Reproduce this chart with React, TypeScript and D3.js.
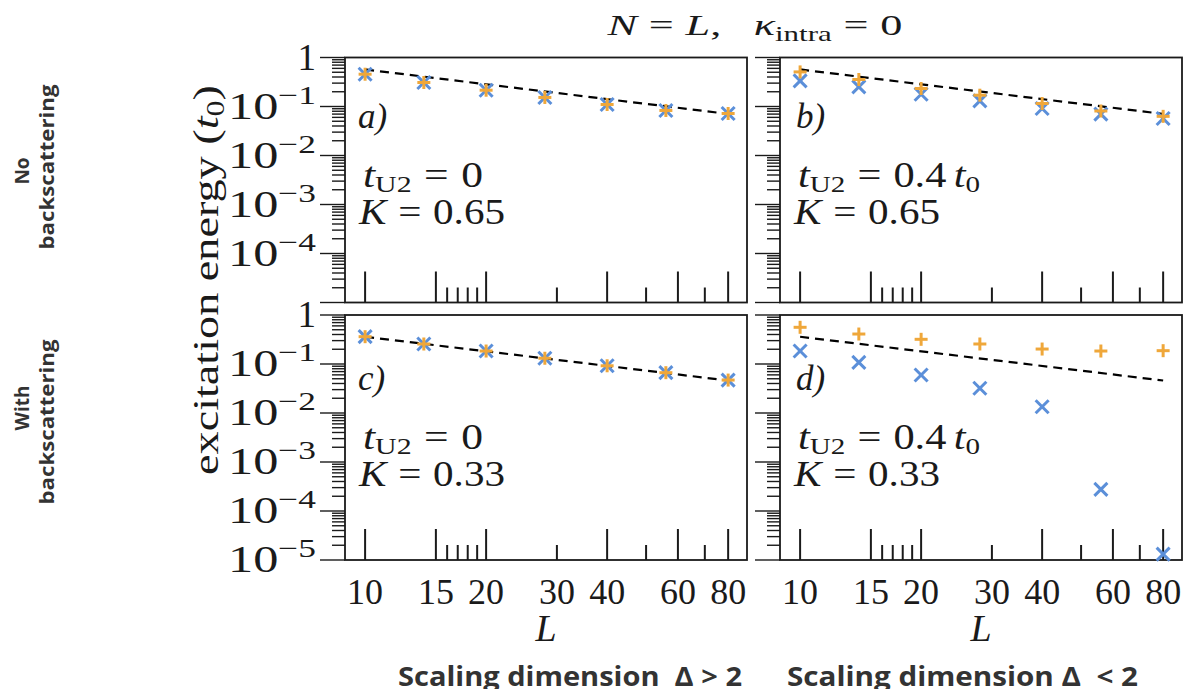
import React from 'react';
import * as d3 from 'd3';

// ---------- data ----------
const L_VALUES = [10, 14, 20, 28, 40, 56, 80];

const PANEL_A_BLUE = [0.456, 0.309, 0.215, 0.153, 0.11, 0.083, 0.072];
const PANEL_A_ORANGE = [0.456, 0.309, 0.215, 0.153, 0.11, 0.083, 0.072];
const PANEL_B_BLUE = [0.333, 0.251, 0.178, 0.13, 0.091, 0.07, 0.057];
const PANEL_B_ORANGE = [0.508, 0.356, 0.233, 0.17, 0.115, 0.081, 0.063];
const PANEL_C_BLUE = [0.361, 0.256, 0.184, 0.131, 0.092, 0.0665, 0.047];
const PANEL_C_ORANGE = [0.361, 0.256, 0.184, 0.131, 0.092, 0.0665, 0.047];
const PANEL_D_BLUE = [0.184, 0.108, 0.0597, 0.0319, 0.01345, 2.77e-4, 1.32e-5];
const PANEL_D_ORANGE = [0.561, 0.409, 0.319, 0.256, 0.202, 0.184, 0.187];

const FIT_L = [10, 80];
const FIT_UPPER = [0.57, 0.0705];
const FIT_LOWER = [0.36, 0.046];

const X_TICKS_MAJOR = [10, 15, 20, 40, 60, 80];
const X_TICKS_MINOR = [16, 17, 18, 19, 30, 50, 70];
const X_TICK_LABELS = [10, 15, 20, 30, 40, 60, 80];
const Y_DECADES = [0, -1, -2, -3, -4, -5];
const Y_MINOR_SUBS = [2, 3, 4, 5, 6, 7, 8, 9];

const PANEL_LABELS = ['a)', 'b)', 'c)', 'd)'];
const T_U2_VALUES = ['0', '0.4', '0', '0.4'];
const K_VALUES = ['0.65', '0.65', '0.33', '0.33'];

// ---------- layout / style ----------
const W = 1185;
const H = 689;
const COLS = [345, 780];
const ROWS = [57.5, 315];
const PW = 402;
const PH = 245;
const BLUE = '#5b8fd9';
const ORANGE = '#efa73a';
const INK = '#1a1a1a';
const SERIF = '"Liberation Serif", "Times New Roman", serif';
const SANS = '"Open Sans", "Noto Sans", sans-serif';

const xScale = d3.scaleLog().domain([Math.pow(10, 0.95), Math.pow(10, 1.95)]).range([0, PW]);
const yScale = d3.scaleLog().domain([1e-5, 1]).range([PH, 0]);

const yMinor: number[] = [];
for (let d = -5; d < 0; d++) for (const m of Y_MINOR_SUBS) yMinor.push(m * Math.pow(10, d));

const panels = [
  { col: 0, row: 0, blue: PANEL_A_BLUE, orange: PANEL_A_ORANGE, fit: FIT_UPPER },
  { col: 1, row: 0, blue: PANEL_B_BLUE, orange: PANEL_B_ORANGE, fit: FIT_UPPER },
  { col: 0, row: 1, blue: PANEL_C_BLUE, orange: PANEL_C_ORANGE, fit: FIT_LOWER },
  { col: 1, row: 1, blue: PANEL_D_BLUE, orange: PANEL_D_ORANGE, fit: FIT_LOWER },
];

const fitLine = d3
  .line<number>()
  .x((_, i) => xScale(FIT_L[i]))
  .y((v) => yScale(v));

function Cross({ cx, cy }: { cx: number; cy: number }) {
  const s = 6.5;
  return (
    <g stroke={BLUE} strokeWidth={3}>
      <line x1={cx - s} y1={cy - s} x2={cx + s} y2={cy + s} />
      <line x1={cx - s} y1={cy + s} x2={cx + s} y2={cy - s} />
    </g>
  );
}

function Plus({ cx, cy }: { cx: number; cy: number }) {
  const s = 6.5;
  return (
    <g stroke={ORANGE} strokeWidth={3}>
      <line x1={cx - s} y1={cy} x2={cx + s} y2={cy} />
      <line x1={cx} y1={cy - s} x2={cx} y2={cy + s} />
    </g>
  );
}

function Panel({ idx }: { idx: number }) {
  const p = panels[idx];
  const x0 = COLS[p.col];
  const y0 = ROWS[p.row];
  const off = p.row === 1 ? 5 : 0;
  const showYLabels = p.col === 0;
  const showXLabels = p.row === 1;
  const yLabelDecades = p.row === 0 ? Y_DECADES.slice(0, 5) : Y_DECADES;
  const is04 = T_U2_VALUES[idx] === '0.4';
  return (
    <g transform={`translate(${x0},${y0})`}>
      {/* y ticks (outside left) */}
      <g stroke={INK} strokeWidth={1.4}>
        {Y_DECADES.map((d) => (
          <line key={'M' + d} x1={-25} x2={0} y1={yScale(Math.pow(10, d))} y2={yScale(Math.pow(10, d))} />
        ))}
        {yMinor.map((v, i) => (
          <line key={'m' + i} x1={-13} x2={0} y1={yScale(v)} y2={yScale(v)} />
        ))}
      </g>
      {/* x ticks (inside bottom) */}
      <g stroke={INK} strokeWidth={2}>
        {X_TICKS_MAJOR.map((v) => (
          <line key={'xM' + v} x1={xScale(v)} x2={xScale(v)} y1={PH} y2={PH - 31} />
        ))}
        {X_TICKS_MINOR.map((v) => (
          <line key={'xm' + v} x1={xScale(v)} x2={xScale(v)} y1={PH} y2={PH - 15} />
        ))}
      </g>
      {/* frame */}
      <rect x={0} y={0} width={PW} height={PH} fill="none" stroke={INK} strokeWidth={1.8} />
      {/* fit */}
      <path d={fitLine(p.fit) || ''} fill="none" stroke="#000" strokeWidth={2.2} strokeDasharray="9,6" />
      {/* markers */}
      {p.blue.map((v, i) => (
        <Cross key={'b' + i} cx={xScale(L_VALUES[i])} cy={yScale(v)} />
      ))}
      {p.orange.map((v, i) => (
        <Plus key={'o' + i} cx={xScale(L_VALUES[i])} cy={yScale(v)} />
      ))}
      {/* annotations */}
      <text x={p.col === 0 ? 13 : 16} y={70 + off} fontFamily={SERIF} fontSize={35} fontStyle="italic" fill={INK}>
        {PANEL_LABELS[idx]}
      </text>
      <text
        x={18}
        y={129 + off}
        fontFamily={SERIF}
        fontSize={35}
        fill={INK}
        textLength={is04 ? 182 : 120}
        lengthAdjust="spacingAndGlyphs"
      >
        <tspan fontStyle="italic">t</tspan>
        <tspan fontSize={24} dy={5}>U2</tspan>
        <tspan dy={-5} dx={10}>=</tspan>
        <tspan dx={10}>{T_U2_VALUES[idx]}</tspan>
        {is04 && (
          <>
            <tspan dx={6} fontStyle="italic">t</tspan>
            <tspan fontSize={24} dy={5}>0</tspan>
          </>
        )}
      </text>
      <text x={14} y={166 + off} fontFamily={SERIF} fontSize={35} fill={INK} textLength={146} lengthAdjust="spacingAndGlyphs">
        <tspan fontStyle="italic">K</tspan>
        <tspan dx={10}>=</tspan>
        <tspan dx={10}>{K_VALUES[idx]}</tspan>
      </text>
      {/* y tick labels */}
      {showYLabels &&
        yLabelDecades.map((d) =>
          d === 0 ? (
            <text key={'yl' + d} x={-29} y={yScale(1) + 12} textAnchor="end" fontFamily={SERIF} fontSize={37} fill={INK}>
              1
            </text>
          ) : (
            <text
              key={'yl' + d}
              x={-29}
              y={yScale(Math.pow(10, d)) + 12}
              textAnchor="end"
              fontFamily={SERIF}
              fontSize={37}
              fill={INK}
              textLength={88}
              lengthAdjust="spacingAndGlyphs"
            >
              10
              <tspan fontSize={26} dy={-15}>
                {'\u2212' + -d}
              </tspan>
            </text>
          )
        )}
      {/* x tick labels */}
      {showXLabels &&
        X_TICK_LABELS.map((v) => (
          <text key={'xl' + v} x={xScale(v)} y={PH + 44} textAnchor="middle" fontFamily={SERIF} fontSize={36} fill={INK}>
            {v}
          </text>
        ))}
      {showXLabels && (
        <text x={PW / 2} y={PH + 81} textAnchor="middle" fontFamily={SERIF} fontSize={38} fontStyle="italic" fill={INK}>
          L
        </text>
      )}
    </g>
  );
}

export default function App() {
  return (
    <svg
      width={W}
      height={H}
      viewBox={`0 0 ${W} ${H}`}
      style={{ position: 'absolute', left: 0, top: 0, background: '#fff', display: 'block' }}
    >
      <rect x={0} y={0} width={W} height={H} fill="#fff" />
      {/* title */}
      <text x={755} y={35} textAnchor="middle" fontFamily={SERIF} fontSize={30} fill={INK} textLength={295} lengthAdjust="spacingAndGlyphs">
        <tspan fontStyle="italic">N</tspan>
        <tspan dx={8}>=</tspan>
        <tspan dx={8} fontStyle="italic">L</tspan>
        <tspan>,</tspan>
        <tspan dx={22} fontStyle="italic">κ</tspan>
        <tspan fontSize={21} dy={6}>intra</tspan>
        <tspan dy={-6} dx={8}>=</tspan>
        <tspan dx={8}>0</tspan>
      </text>
      {/* y axis title */}
      <text
        transform="translate(218,280) rotate(-90)"
        textAnchor="middle"
        fontFamily={SERIF}
        fontSize={36}
        fill={INK}
        textLength={390}
        lengthAdjust="spacingAndGlyphs"
      >
        <tspan>excitation energy (</tspan>
        <tspan fontStyle="italic">t</tspan>
        <tspan fontSize={25} dy={6}>0</tspan>
        <tspan dy={-6}>)</tspan>
      </text>
      {[0, 1, 2, 3].map((i) => (
        <Panel key={i} idx={i} />
      ))}
      {/* row labels */}
      <g fontFamily={SANS} fontWeight={700} fontSize={19} fill="#333">
        <text transform="translate(22,171) rotate(-90)" textAnchor="middle" dominantBaseline="central">
          No
        </text>
        <text transform="translate(47,167) rotate(-90)" textAnchor="middle" dominantBaseline="central" textLength={165} lengthAdjust="spacingAndGlyphs">
          backscattering
        </text>
        <text transform="translate(22,408) rotate(-90)" textAnchor="middle" dominantBaseline="central">
          With
        </text>
        <text transform="translate(47,422) rotate(-90)" textAnchor="middle" dominantBaseline="central" textLength={165} lengthAdjust="spacingAndGlyphs">
          backscattering
        </text>
      </g>
      {/* bottom captions */}
      <g fontFamily={SANS} fontWeight={700} fontSize={26} fill="#333">
        <text x={398} y={686} textLength={344} lengthAdjust="spacingAndGlyphs" style={{ whiteSpace: 'pre' }}>
          {'Scaling dimension  \u0394 > 2'}
        </text>
        <text x={787} y={686} textLength={351} lengthAdjust="spacingAndGlyphs" style={{ whiteSpace: 'pre' }}>
          {'Scaling dimension \u0394  < 2'}
        </text>
      </g>
    </svg>
  );
}
